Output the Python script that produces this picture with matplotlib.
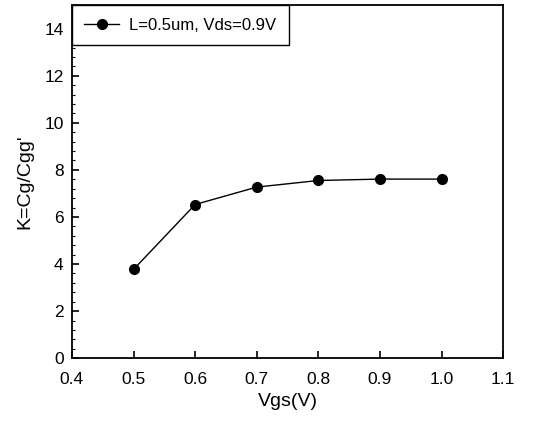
import matplotlib
matplotlib.use("Agg")
import matplotlib.pyplot as plt
from matplotlib.ticker import MultipleLocator

vgs = [0.5, 0.6, 0.7, 0.8, 0.9, 1.0]
k_vals = [3.77, 6.53, 7.27, 7.55, 7.61, 7.61]
series_label = "L=0.5um, Vds=0.9V"
xticks = [0.4, 0.5, 0.6, 0.7, 0.8, 0.9, 1.0, 1.1]
yticks = [0, 2, 4, 6, 8, 10, 12, 14]

plt.rcParams['font.family'] = ['Liberation Sans', 'DejaVu Sans']

fig = plt.figure(figsize=(5.53, 4.30), dpi=100)
ax = fig.add_axes([0.130, 0.167, 0.780, 0.821])
ax.plot(vgs, k_vals, color='black', lw=1.0, marker='o', markersize=7, label=series_label)
ax.set_xlim(0.4, 1.1)
ax.set_ylim(0, 15)
ax.set_xticks(xticks)
ax.set_xticklabels([f"{t:.1f}" for t in xticks])
ax.set_yticks(yticks)
ax.yaxis.set_minor_locator(MultipleLocator(0.4))
ax.tick_params(axis='x', which='major', direction='in', length=5, width=1.2, labelsize=12.5, pad=10)
ax.tick_params(axis='y', which='major', direction='in', length=5, width=1.2, labelsize=12.5, pad=6)
ax.tick_params(axis='y', which='minor', direction='in', length=2.5, width=0.8)
ax.tick_params(top=False, right=False)
for s in ax.spines.values():
    s.set_linewidth(1.3)
ax.set_xlabel("Vgs(V)", fontsize=14, labelpad=4)
ax.set_ylabel("K=Cg/Cgg'", fontsize=14, labelpad=8)
leg = ax.legend(loc='upper left', bbox_to_anchor=(0, 1), borderaxespad=0, fontsize=12,
                fancybox=False, edgecolor='black', framealpha=1, handlelength=2.1,
                handletextpad=0.6, borderpad=0.75)
leg.get_frame().set_linewidth(1.0)
fig.savefig("out.png", dpi=100)
